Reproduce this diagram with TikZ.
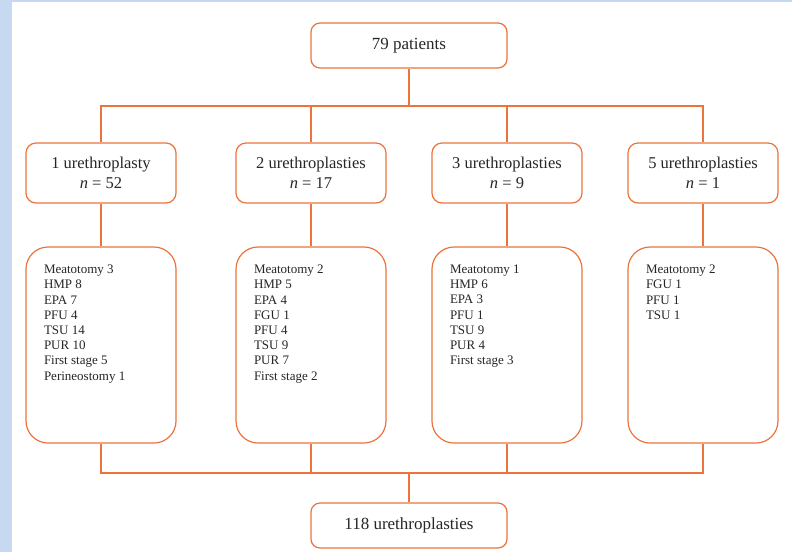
\documentclass[tikz,border=0pt]{standalone}
\usepackage{fontspec}
\setmainfont{Liberation Serif}
\usetikzlibrary{calc}

\definecolor{boxline}{RGB}{236,116,60}
\definecolor{pageblue}{RGB}{198,217,240}

\begin{document}
\begin{tikzpicture}[x=1pt, y=-1pt,
  head/.style={draw=boxline, line width=1.2pt, rounded corners=9pt, fill=white, minimum width=196pt, minimum height=45pt, font=\fontsize{17}{20}\selectfont, text=black!85},
  group/.style={draw=boxline, line width=1.2pt, rounded corners=10pt, fill=white, minimum width=150pt, minimum height=60pt, align=center, font=\fontsize{16.5}{20}\selectfont, text=black!85},
  list/.style={draw=boxline, line width=1.2pt, rounded corners=22pt, fill=white, inner xsep=18pt, inner ysep=16pt, font=\fontsize{13}{15.2}\selectfont, text=black!85},
  link/.style={draw=boxline, line width=1.2pt}]

\useasboundingbox (0,0) rectangle (792,552);
\fill[pageblue] (0,0) rectangle (792,552);
\fill[white] (12,2) rectangle (792,552);

\node[head] (top) at (409,45.5) {79 patients};

\node[group] (1) at (101,173) {1 urethroplasty\\\textit{n} = 52};
\node[group] (2) at ($(1) + (210, 0)$) {2 urethroplasties\\\textit{n} = 17};
\node[group] (3) at ($(2) + (196, 0)$) {3 urethroplasties\\\textit{n} = 9};
\node[group] (4) at ($(3) + (196, 0)$) {5 urethroplasties\\\textit{n} = 1};

\node[list] (1l) at ($(1) + (0, 172)$) {\parbox[t][164pt][t]{114pt}{\raggedright\vspace*{2pt}
Meatotomy 3\\HMP 8\\EPA 7\\PFU 4\\TSU 14\\PUR 10\\First stage 5\\Perineostomy 1}};
\node[list] (2l) at ($(2) + (0, 172)$) {\parbox[t][164pt][t]{114pt}{\raggedright\vspace*{2pt}
Meatotomy 2\\HMP 5\\EPA 4\\FGU 1\\PFU 4\\TSU 9\\PUR 7\\First stage 2}};
\node[list] (3l) at ($(3) + (0, 172)$) {\parbox[t][164pt][t]{114pt}{\raggedright\vspace*{2pt}
Meatotomy 1\\HMP 6\\EPA 3\\PFU 1\\TSU 9\\PUR 4\\First stage 3}};
\node[list] (4l) at ($(4) + (0, 172)$) {\parbox[t][164pt][t]{114pt}{\raggedright\vspace*{2pt}
Meatotomy 2\\FGU 1\\PFU 1\\TSU 1}};

\node[head] (bottom) at ($(top) + (0, 480)$) {118 urethroplasties};

\coordinate (split) at ($(top) + (0, 60.5)$);
\coordinate (join) at ($(bottom) + (0, -52.5)$);

\draw[link] (top) -- (split);
\draw[link] (split) -| (1);
\draw[link] (split) -| (2);
\draw[link] (split) -| (3);
\draw[link] (split) -| (4);

\draw[link] (1) -- (1l);
\draw[link] (2) -- (2l);
\draw[link] (3) -- (3l);
\draw[link] (4) -- (4l);

\draw[link] (1l) |- (join);
\draw[link] (2l) |- (join);
\draw[link] (3l) |- (join);
\draw[link] (4l) |- (join);
\draw[link] (join) -- (bottom);

\end{tikzpicture}
\end{document}
